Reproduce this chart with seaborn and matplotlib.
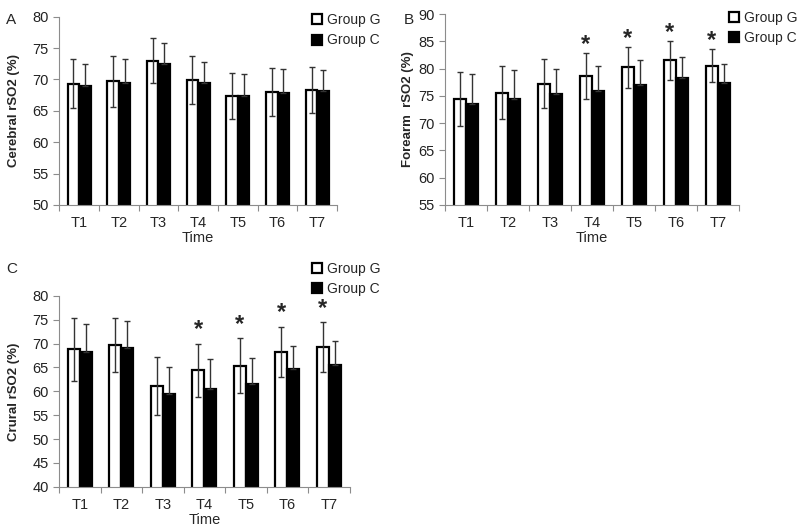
import numpy as np
import pandas as pd
import matplotlib
matplotlib.use('Agg')
import matplotlib.pyplot as plt
import seaborn as sns
from matplotlib.patches import Patch

# time points and groups
times = ['T1', 'T2', 'T3', 'T4', 'T5', 'T6', 'T7']
groups = ['Group G', 'Group C']

# A: cerebral rSO2 (mean, sd)
cereb_g = [69.3, 69.7, 73.0, 69.9, 67.4, 68.0, 68.3]
cereb_g_sd = [3.9, 4.1, 3.6, 3.8, 3.7, 3.8, 3.7]
cereb_c = [69.0, 69.5, 72.4, 69.5, 67.4, 67.8, 68.1]
cereb_c_sd = [3.5, 3.8, 3.4, 3.3, 3.5, 3.9, 3.4]

# B: forearm rSO2
fore_g = [74.4, 75.6, 77.2, 78.6, 80.2, 81.5, 80.5]
fore_g_sd = [5.0, 4.8, 4.5, 4.2, 3.7, 3.6, 3.0]
fore_c = [73.5, 74.5, 75.4, 75.9, 77.0, 78.3, 77.4]
fore_c_sd = [5.5, 5.3, 4.5, 4.5, 4.5, 3.8, 3.4]

# C: crural rSO2
crur_g = [68.8, 69.7, 61.1, 64.4, 65.4, 68.3, 69.3]
crur_g_sd = [6.6, 5.7, 6.1, 5.6, 5.7, 5.2, 5.2]
crur_c = [68.2, 69.1, 59.4, 60.5, 61.5, 64.6, 65.6]
crur_c_sd = [5.9, 5.7, 5.8, 6.2, 5.4, 4.9, 5.0]

# significance markers (G vs C)
sig_fore = [False, False, False, True, True, True, True]
sig_crur = [False, False, False, True, True, True, True]

sns.set_style('ticks')
plt.rcParams['font.family'] = ['Liberation Sans', 'DejaVu Sans']

fig = plt.figure(figsize=(8, 5.29), dpi=100)

GRAY = '#8c8c8c'


def draw_panel(rect, g, g_sd, c, c_sd, ylim, ylabel, sig=None, star_off=0,
               ypad=9):
    ax = fig.add_axes(rect)
    df = pd.DataFrame({
        'Time': times * 2,
        'rSO2': g + c,
        'group': [groups[0]] * 7 + [groups[1]] * 7,
    })
    sns.barplot(data=df, x='Time', y='rSO2', hue='group',
                palette={groups[0]: 'white', groups[1]: 'black'},
                edgecolor='black', linewidth=1.6, width=0.58,
                errorbar=None, legend=False, ax=ax)
    bars = ax.patches
    xs = [b.get_x() + b.get_width() / 2 for b in bars]
    # group G: full bar, group C: upper half only (lower part hidden)
    ax.errorbar(xs[:7], g, yerr=g_sd, fmt='none', ecolor='#333333',
                elinewidth=1.0, capsize=2.5, capthick=1.0, zorder=5)
    ax.errorbar(xs[7:], c, yerr=[np.zeros(7), c_sd], fmt='none',
                ecolor='#333333', elinewidth=1.0, capsize=2.5, capthick=1.0,
                zorder=1.5)
    if sig is not None:
        for i, s in enumerate(sig):
            if s:
                ax.annotate('*', xy=(xs[i], g[i] + g_sd[i]),
                            xytext=(0, star_off), textcoords='offset points',
                            ha='center', va='baseline', fontsize=17,
                            fontweight='bold')
    ax.set_ylim(*ylim)
    ax.set_yticks(np.arange(ylim[0], ylim[1] + 1, 5))
    ax.set_xlim(-0.5, 6.5)
    ax.set_xticks(range(7))
    ax.set_xticklabels(times)
    ax.set_xticks(np.arange(-0.5, 7, 1), minor=True)
    ax.tick_params(axis='x', which='major', length=0, labelsize=10.5, pad=8)
    ax.tick_params(axis='x', which='minor', length=4, color=GRAY, width=0.8)
    ax.tick_params(axis='y', length=4, color=GRAY, width=0.8, labelsize=10.5,
                   labelcolor='#222222')
    ax.set_xlabel('Time', fontsize=10.5, labelpad=1)
    ax.set_ylabel(ylabel, fontsize=9.5, fontweight='bold', labelpad=ypad)
    for side in ['top', 'right']:
        ax.spines[side].set_visible(False)
    for side in ['left', 'bottom']:
        ax.spines[side].set_color(GRAY)
        ax.spines[side].set_linewidth(0.8)
    return ax


def add_legend(x, y):
    handles = [Patch(facecolor='white', edgecolor='black', linewidth=1.6),
               Patch(facecolor='black', edgecolor='black', linewidth=1.6)]
    fig.legend(handles, groups, loc='upper left', bbox_to_anchor=(x, y),
               frameon=False, fontsize=10, handlelength=0.75, handleheight=0.75,
               handletextpad=0.35, labelspacing=0.45, borderpad=0,
               borderaxespad=0)


draw_panel([0.074, 0.6125, 0.3475, 0.356], cereb_g, cereb_g_sd, cereb_c,
           cereb_c_sd, (50, 80), 'Cerebral rSO2 (%)')
draw_panel([0.556, 0.6125, 0.3675, 0.361], fore_g, fore_g_sd, fore_c,
           fore_c_sd, (55, 90), 'Forearm  rSO2 (%)', sig_fore, star_off=1.5,
           ypad=3)
draw_panel([0.074, 0.08, 0.363, 0.3605], crur_g, crur_g_sd, crur_c,
           crur_c_sd, (40, 80), 'Crural rSO2 (%)', sig_crur, star_off=5.5)

add_legend(0.39, 0.975)
add_legend(0.911, 0.98)
add_legend(0.39, 0.505)

fig.text(0.008, 0.975, 'A', fontsize=11, va='top')
fig.text(0.505, 0.975, 'B', fontsize=11, va='top')
fig.text(0.008, 0.505, 'C', fontsize=11, va='top')

fig.savefig('out.png', dpi=100)
